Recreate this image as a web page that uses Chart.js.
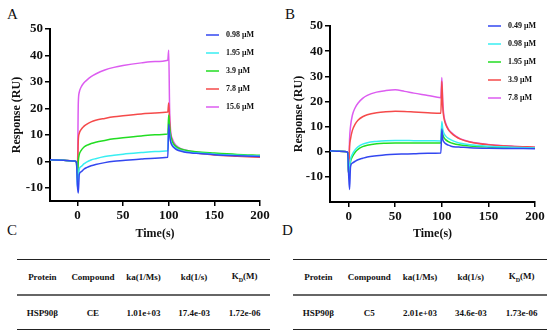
<!DOCTYPE html>
<html>
<head>
<meta charset="utf-8">
<script src="https://cdn.jsdelivr.net/npm/chart.js@4.4.0/dist/chart.umd.min.js"></script>
<style>
  body { margin: 0; width: 550px; height: 335px; background: #fff; position: relative; overflow: hidden;
         font-family: "Liberation Serif", "DejaVu Serif", serif; color: #111; }
  .chartBox { position: absolute; top: 0; width: 275px; height: 245px; }
  .panel { position: absolute; font-size: 15px; }
  table.kin { position: absolute; border-collapse: collapse; table-layout: fixed; font-size: 9px; font-weight: bold; }
  table.kin td { text-align: center; padding: 0; }
  table.kin tr.head td { height: 34px; border-top: 1.5px solid #222; border-bottom: 2px solid #666; }
  table.kin tr.row td { height: 33px; border-bottom: 1.5px solid #222; }
</style>
</head>
<body>
<div class="panel" style="left:7px;top:6px">A</div>
<div class="panel" style="left:285px;top:6px">B</div>
<div class="panel" style="left:7px;top:222px">C</div>
<div class="panel" style="left:282px;top:222px">D</div>

<div class="chartBox" style="left:0"><canvas id="chartA" width="275" height="245"></canvas></div>
<div class="chartBox" style="left:275px"><canvas id="chartB" width="275" height="245"></canvas></div>

<table class="kin" style="left:17px;top:259px;width:253px">
  <tr class="head"><td>Protein</td><td>Compound</td><td>ka(1/Ms)</td><td>kd(1/s)</td><td>K<sub style="font-size:6px">D</sub>(M)</td></tr>
  <tr class="row"><td>HSP90β</td><td>CE</td><td>1.01e+03</td><td>17.4e-03</td><td>1.72e-06</td></tr>
</table>
<table class="kin" style="left:293px;top:259px;width:254px">
  <tr class="head"><td>Protein</td><td>Compound</td><td>ka(1/Ms)</td><td>kd(1/s)</td><td>K<sub style="font-size:6px">D</sub>(M)</td></tr>
  <tr class="row"><td>HSP90β</td><td>C5</td><td>2.01e+03</td><td>34.6e-03</td><td>1.73e-06</td></tr>
</table>

<script>
// Couleurs des séries (même ordre dans les deux panneaux)
const seriesColors = ['#3347f0', '#38eef2', '#22dd22', '#f54a4a', '#dc5cf0'];

// ---- Panneau A (CE) ----
const labelsA = ['0.98 μM', '1.95 μM', '3.9 μM', '7.8 μM', '15.6 μM'];
const timeA = [-30, -15, -3, -1, 0, 1, 2, 4, 7, 10, 15, 20, 30, 40, 50, 70, 85, 99, 100, 101, 102, 104, 107, 110, 115, 120, 130, 150, 175, 200];
const a098 = [0.6, 0.4, 0.1, -0.4, -9, -12, -5, -4, -3, -2.4, -1.7, -1.2, -0.5, 0, 0.3, 0.9, 1.2, 1.5, 14, 10, 7.5, 5.8, 4.8, 4.2, 3.7, 3.3, 3, 2.5, 2.1, 1.8];
const a195 = [0.6, 0.4, 0.1, -0.4, -10, -8, -3, -2, -1, -0.3, 0.5, 1, 1.8, 2.3, 2.7, 3.3, 3.7, 4, 13, 10.5, 8, 6.2, 5.2, 4.5, 3.9, 3.5, 3.2, 2.7, 2.3, 2];
const a39 = [0.6, 0.4, 0.1, -0.4, -7, 0, 2.5, 4, 5.3, 6, 6.7, 7.2, 7.9, 8.5, 8.9, 9.6, 10, 10.3, 17.5, 13, 10, 7.5, 6, 5.2, 4.5, 4.1, 3.6, 3.1, 2.6, 2.3];
const a78 = [0.6, 0.4, 0.1, -0.4, -5, 8, 10.5, 12, 13.2, 14, 14.9, 15.5, 16.2, 16.8, 17.2, 17.9, 18.3, 18.6, 22, 15, 10.5, 7.5, 5.7, 4.8, 4, 3.6, 3.1, 2.4, 1.9, 1.5];
const a156 = [0.6, 0.4, 0.1, -0.4, -5, 22, 26, 28, 29.6, 30.6, 32, 33, 34.5, 35.5, 36.2, 37.2, 37.7, 38.2, 42, 20, 12, 8.5, 6.5, 5.5, 4.6, 4.1, 3.5, 2.8, 2.3, 2];
const yTicksA = [-10, 0, 10, 20, 30, 40, 50];
const xTicksA = [0, 50, 100, 150, 200];

// ---- Panneau B (C5) ----
const labelsB = ['0.49 μM', '0.98 μM', '1.95 μM', '3.9 μM', '7.8 μM'];
const timeB = [-20, -10, -2, -1, 0, 1, 2, 4, 7, 10, 15, 20, 30, 40, 50, 60, 70, 85, 99, 100, 101, 102, 104, 107, 110, 115, 120, 130, 150, 175, 200];
const b049 = [0.4, 0.2, 0, -0.5, -9, -15, -6, -4.5, -3.8, -3.2, -2.6, -2.1, -1.6, -1.2, -1, -0.9, -0.8, -0.6, -0.5, 9, 5, 4, 3.2, 2.6, 2.2, 1.9, 1.8, 1.6, 1.4, 1.3, 1.2];
const b098 = [0.4, 0.2, 0, -0.5, -9, -6, -3, -1, 0.8, 1.9, 3, 3.6, 4.1, 4.4, 4.5, 4.5, 4.4, 4.4, 4.3, 12, 9, 7.5, 6.3, 5.3, 4.7, 3.9, 3.4, 2.8, 2.2, 1.8, 1.5];
const b195 = [0.4, 0.2, 0, -0.5, -9, -7, -4, -2, -0.2, 0.9, 2, 2.6, 3.2, 3.4, 3.5, 3.5, 3.5, 3.5, 3.5, 10, 7, 5.8, 4.8, 4, 3.5, 3, 2.7, 2.3, 1.9, 1.6, 1.4];
const b39 = [0.4, 0.2, 0, -0.5, -9, 2, 5, 8.5, 11, 12.5, 13.9, 14.7, 15.5, 15.9, 16.1, 16, 15.8, 15.5, 15.3, 28, 18, 14, 11, 8.8, 7.5, 6, 5, 3.9, 2.8, 2.2, 1.8];
const b78 = [0.4, 0.2, 0, -0.5, -9, 5, 10, 14.5, 17.5, 19.3, 21.2, 22.4, 23.7, 24.3, 24.6, 24, 23.3, 22.4, 21.5, 29.5, 20, 15, 11.5, 9, 7.7, 6.2, 5.1, 4, 2.9, 2.2, 1.8];
const yTicksB = [-10, 0, 10, 20, 30, 40, 50];
const xTicksB = [0, 50, 100, 150, 200];

const FONT = '"Liberation Serif", "Times New Roman", serif';

// Légende dessinée à l'intérieur de la zone du graphique
const legendInside = {
  id: 'legendInside',
  afterDatasetsDraw(chart, args, opts) {
    const ctx = chart.ctx;
    ctx.save();
    ctx.font = 'bold 8px ' + FONT;
    ctx.textBaseline = 'middle';
    chart.data.datasets.forEach((ds, i) => {
      const y = opts.y + i * opts.gap;
      ctx.strokeStyle = ds.borderColor;
      ctx.lineWidth = 1.5;
      ctx.beginPath();
      ctx.moveTo(opts.x, y);
      ctx.lineTo(opts.x + 13, y);
      ctx.stroke();
      ctx.fillStyle = '#111';
      ctx.fillText(ds.label, opts.x + 20, y);
    });
    ctx.restore();
  }
};

function makeDatasets(labels, times, seriesList) {
  return seriesList.map((vals, i) => ({
    label: labels[i],
    data: times.map((t, k) => ({ x: t, y: vals[k] })),
    borderColor: seriesColors[i],
    borderWidth: 1.5,
    pointRadius: 0,
    cubicInterpolationMode: 'monotone',
    fill: false
  }));
}

function axisStyle() {
  return {
    border: { display: true, color: '#000', width: 2 },
    grid: { drawOnChartArea: false, color: '#000', tickLength: 5, lineWidth: 1.5 },
    ticks: { color: '#111', padding: 2, font: { family: FONT, size: 13, weight: 'bold' } }
  };
}

function makeChart(id, cfg) {
  const xAxis = axisStyle();
  const yAxis = axisStyle();
  return new Chart(document.getElementById(id), {
    type: 'line',
    data: { datasets: makeDatasets(cfg.labels, cfg.times, cfg.series) },
    options: {
      responsive: false,
      animation: false,
      layout: { padding: { top: cfg.top, right: 15, left: cfg.left, bottom: 0 } },
      plugins: {
        legend: { display: false },
        tooltip: { enabled: false },
        legendInside: cfg.legend
      },
      scales: {
        x: Object.assign(xAxis, {
          type: 'linear',
          min: cfg.xMin,
          max: 200,
          afterBuildTicks: s => { s.ticks = cfg.xTicks.map(v => ({ value: v })); },
          afterFit: s => { s.height = cfg.xHeight; },
          title: { display: true, text: 'Time(s)', color: '#111', font: { family: FONT, size: 12, weight: 'bold' } }
        }),
        y: Object.assign(yAxis, {
          min: cfg.yMin,
          max: 50,
          afterBuildTicks: s => { s.ticks = cfg.yTicks.map(v => ({ value: v })); },
          afterFit: s => { s.width = cfg.yWidth; },
          title: { display: true, text: 'Response (RU)', color: '#111', font: { family: FONT, size: 12, weight: 'bold' } }
        })
      }
    },
    plugins: [legendInside]
  });
}

document.addEventListener('DOMContentLoaded', () => {
  makeChart('chartA', {
    labels: labelsA, times: timeA, series: [a098, a195, a39, a78, a156],
    xTicks: xTicksA, yTicks: yTicksA, xMin: -30, yMin: -15,
    top: 29, left: 6, yWidth: 44, xHeight: 44,
    legend: { x: 206, y: 35, gap: 18 }
  });
  makeChart('chartB', {
    labels: labelsB, times: timeB, series: [b049, b098, b195, b39, b78],
    xTicks: xTicksB, yTicks: yTicksB, xMin: -20, yMin: -20,
    top: 26, left: 13, yWidth: 42, xHeight: 43,
    legend: { x: 213, y: 26, gap: 18 }
  });
});
</script>
</body>
</html>
